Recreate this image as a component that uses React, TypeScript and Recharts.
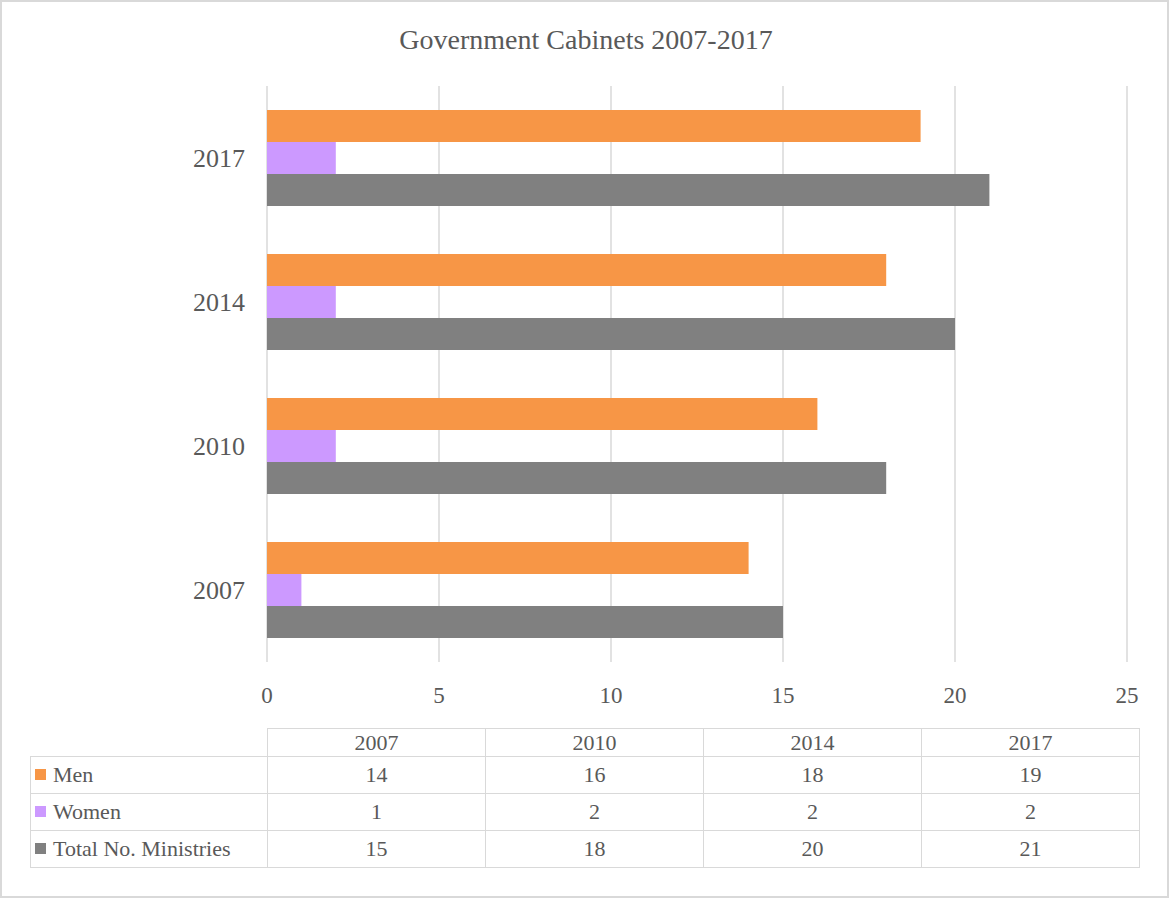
import React from 'react';
import { BarChart, Bar, XAxis, YAxis, CartesianGrid } from 'recharts';

const years = ['2007', '2010', '2014', '2017'];
const men = [14, 16, 18, 19];
const women = [1, 2, 2, 2];
const totalMinistries = [15, 18, 20, 21];
const xTicks = [0, 5, 10, 15, 20, 25];

const SERIES = [
  { key: 'men', name: 'Men', color: '#F79646', values: men },
  { key: 'women', name: 'Women', color: '#CC99FF', values: women },
  { key: 'total', name: 'Total No. Ministries', color: '#808080', values: totalMinistries },
];

const FONT = '"Liberation Serif", "Times New Roman", serif';
const TEXT = '#595959';
const LINE = '#d9d9d9';

const data = years.map((year, i) => ({
  year,
  men: men[i],
  women: women[i],
  total: totalMinistries[i],
}));

const cell: React.CSSProperties = {
  border: `1px solid ${LINE}`,
  textAlign: 'center',
  verticalAlign: 'middle',
  padding: 0,
  color: TEXT,
};

const App: React.FC = () => {
  return (
    <div style={{ position: 'absolute', left: 0, top: 0, width: 1169, height: 898, background: '#fff', fontFamily: FONT }}>
      <div
        style={{
          position: 'absolute', left: 0, top: 0, width: 1169, height: 898,
          border: `2px solid ${LINE}`, boxSizing: 'border-box', pointerEvents: 'none',
        }}
      />
      <div
        style={{
          position: 'absolute', left: 0, top: 24, width: 1172, textAlign: 'center',
          fontSize: 28, lineHeight: '32px', color: TEXT,
        }}
      >
        Government Cabinets 2007-2017
      </div>

      <div style={{ position: 'absolute', left: 0, top: 0 }}>
        <BarChart
          width={1169}
          height={898}
          data={data}
          layout="vertical"
          margin={{ top: 86, right: 42, bottom: 196, left: 0 }}
          barSize={32}
          barGap={0}
        >
          <CartesianGrid horizontal={false} stroke={LINE} strokeWidth={1.5} />
          <XAxis
            type="number"
            domain={[0, 25]}
            ticks={xTicks}
            height={40}
            axisLine={false}
            tickLine={false}
            tickSize={0}
            tickMargin={25}
            tick={{ fill: TEXT, fontSize: 23, fontFamily: FONT }}
          />
          <YAxis
            type="category"
            dataKey="year"
            reversed
            width={267}
            axisLine={false}
            tickLine={false}
            tickSize={0}
            tickMargin={22}
            tick={{ fill: TEXT, fontSize: 26, fontFamily: FONT }}
          />
          {SERIES.map((s) => (
            <Bar key={s.key} dataKey={s.key} name={s.name} fill={s.color} isAnimationActive={false} />
          ))}
        </BarChart>
      </div>

      <table
        style={{
          position: 'absolute', left: 30, top: 728, borderCollapse: 'collapse', tableLayout: 'fixed',
          fontSize: 22, fontFamily: FONT, width: 1110,
        }}
      >
        <colgroup>
          <col style={{ width: 237 }} />
          {years.map((y) => (
            <col key={y} style={{ width: 218 }} />
          ))}
        </colgroup>
        <tbody>
          <tr style={{ height: 28 }}>
            <td style={{ border: 'none', padding: 0 }} />
            {years.map((y) => (
              <td key={y} style={cell}>{y}</td>
            ))}
          </tr>
          {SERIES.map((s) => (
            <tr key={s.key} style={{ height: 37 }}>
              <td style={{ ...cell, textAlign: 'left', paddingLeft: 4, whiteSpace: 'nowrap' }}>
                <span
                  style={{
                    display: 'inline-block', width: 11, height: 11, background: s.color,
                    marginRight: 7, verticalAlign: 'middle', position: 'relative', top: -2,
                  }}
                />
                {s.name}
              </td>
              {s.values.map((v, i) => (
                <td key={i} style={cell}>{v}</td>
              ))}
            </tr>
          ))}
        </tbody>
      </table>
    </div>
  );
};

export default App;
